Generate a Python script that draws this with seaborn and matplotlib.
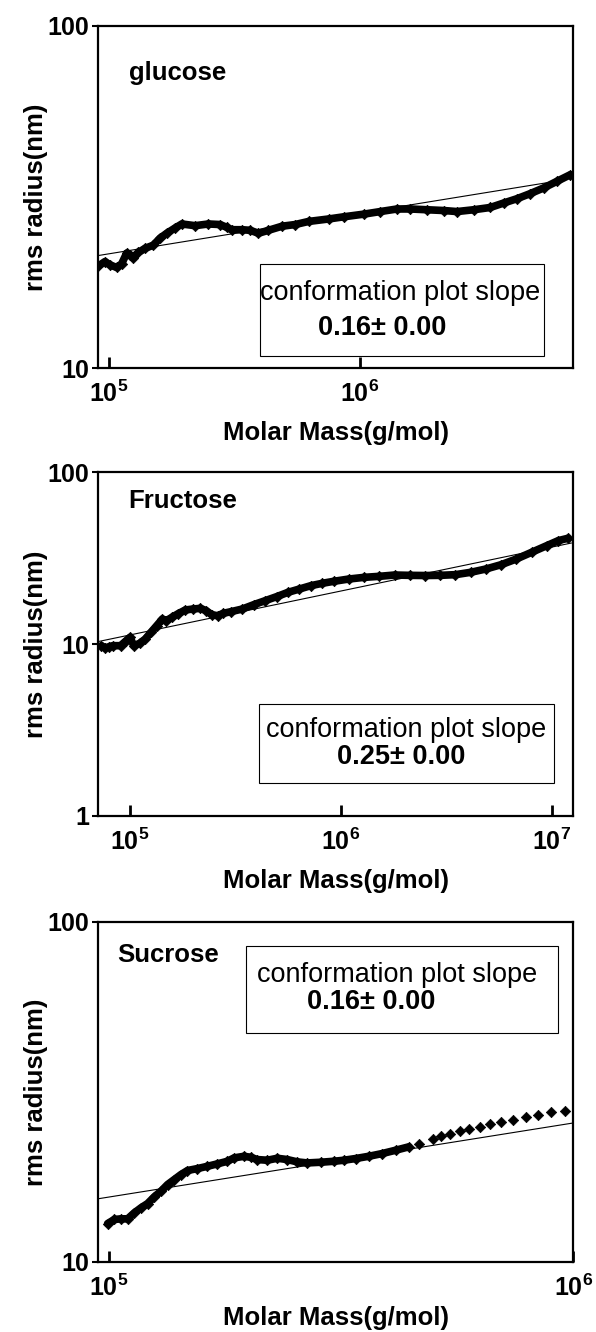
import matplotlib
matplotlib.use("Agg")
import matplotlib.pyplot as plt
from matplotlib.patches import Rectangle
from matplotlib.ticker import NullLocator
import pandas as pd
import seaborn as sns

# glucose: molar mass (g/mol) vs rms radius (nm)
glucose_mm = [90570, 96300, 100800, 107200, 112200, 117500, 121200, 124900, 130800, 139000,
              150100, 159600, 169700, 183200, 194800, 220100, 248700, 277000, 294500, 308300,
              338000, 364800, 393700, 431500, 488200, 551400, 623200, 748800, 859600, 1033000,
              1204000, 1404000, 1586000, 1849000, 2154000, 2435000, 2836000, 3306000, 3736000,
              4225000, 4773000, 5395000, 6101000, 6895000]
glucose_rg = [19.9, 20.5, 20.05, 19.7, 20.2, 21.7, 21.45, 21.0, 21.8, 22.4,
              22.9, 24.0, 24.8, 25.7, 26.4, 26.1, 26.4, 26.3, 25.8, 25.4,
              25.4, 25.3, 24.8, 25.3, 26.0, 26.3, 26.85, 27.3, 27.7, 28.2,
              28.7, 29.2, 29.2, 29.05, 28.9, 28.7, 29.05, 29.5, 30.4,
              31.3, 32.4, 33.65, 35.2, 36.8]
glucose_fit_mm = [90570, 6290000]
glucose_fit_rg = [21.35, 35.36]

# fructose
fructose_mm = [73200, 76300, 79600, 82950, 90140, 95920, 100000, 104200, 110950, 118100,
               125700, 133800, 142400, 148400, 158000, 168100, 182700, 198600, 215800, 229600,
               244400, 260100, 276800, 300800, 340800, 386000, 437400, 495400, 561200, 635700,
               720100, 815800, 924100, 1091000, 1289000, 1522000, 1797000, 2122000, 2506000,
               2959000, 3494000, 4126000, 4872000, 5754000, 6794000, 8023000, 9474000,
               10730000, 11910000]
fructose_rg = [9.78, 9.48, 9.65, 9.78, 9.78, 10.46, 10.94, 9.78, 10.09, 10.69,
               11.70, 12.79, 13.98, 13.67, 14.30, 14.96, 15.78, 15.99, 16.14, 15.64,
               14.82, 14.62, 15.09, 15.43, 15.99, 16.95, 17.88, 18.87, 20.00, 20.91,
               21.87, 22.57, 23.18, 23.91, 24.45, 24.79, 25.23, 25.12, 25.06,
               25.12, 25.35, 26.16, 27.35, 28.98, 31.27, 34.20, 37.41,
               40.00, 41.27]
fructose_fit_mm = [70250, 12410000]
fructose_fit_rg = [10.32, 38.76]

# sucrose
sucrose_mm = [99500, 102850, 106300, 109850, 113560, 117380, 121250, 125340, 129560, 133870,
              138380, 143040, 147770, 155270, 163150, 171420, 180060, 186130, 195570, 202160,
              208870, 219460, 230590, 242290, 254530, 267420, 285760, 305150, 320650, 339710,
              362820, 387500, 414100, 442200, 464700, 498200, 519900, 543600, 569200, 597100,
              628300, 662400, 699300, 739600, 789900, 838000, 895400, 959800]
sucrose_rg = [12.97, 13.33, 13.39, 13.39, 13.95, 14.43, 14.85, 15.54, 16.14, 16.89,
              17.47, 18.07, 18.57, 18.82, 19.11, 19.43, 19.77, 20.23, 20.45, 20.31,
              20.00, 19.91, 20.18, 20.00, 19.69, 19.55, 19.64, 19.77, 19.91, 20.14,
              20.45, 20.83, 21.30, 21.80, 22.24, 23.01, 23.42, 23.80, 24.22, 24.61,
              24.95, 25.46, 25.80, 26.21, 26.69, 27.12, 27.54, 27.73]
sucrose_fit_mm = [94700, 1000000]
sucrose_fit_rg = [15.33, 25.63]

names = ["glucose", "Fructose", "Sucrose"]
slopes = ["0.16\u00b1 0.00", "0.25\u00b1 0.00", "0.16\u00b1 0.00"]

#%% layout per panel
panels = [
    dict(name=names[0], mm=glucose_mm, rg=glucose_rg, fmm=glucose_fit_mm, frg=glucose_fit_rg,
         slope=slopes[0], rect=[0.1639, 0.7235, 0.7983, 0.2570],
         xlim=(90050, 7087000), ylim=(10, 100), xt=[1e5, 1e6], yt=[10, 100],
         band_end=None, name_xy=(0.065, 0.862),
         box=(0.3416, 0.036, 0.5961, 0.2678), t1=(0.636, 0.219), t2=(0.599, 0.117),
         xlab_y=-0.155),
    dict(name=names[1], mm=fructose_mm, rg=fructose_rg, fmm=fructose_fit_mm, frg=fructose_fit_rg,
         slope=slopes[1], rect=[0.1639, 0.3876, 0.7983, 0.2578],
         xlim=(70250, 12680000), ylim=(1, 100), xt=[1e5, 1e6, 1e7], yt=[1, 10, 100],
         band_end=None, name_xy=(0.064, 0.9155),
         box=(0.34, 0.095, 0.62, 0.23), t1=(0.649, 0.2495), t2=(0.638, 0.170),
         xlab_y=-0.155),
    dict(name=names[2], mm=sucrose_mm, rg=sucrose_rg, fmm=sucrose_fit_mm, frg=sucrose_fit_rg,
         slope=slopes[2], rect=[0.1639, 0.0526, 0.7983, 0.2553],
         xlim=(94700, 1000000), ylim=(10, 100), xt=[1e5, 1e6], yt=[10, 100],
         band_end=450000, name_xy=(0.04, 0.902),
         box=(0.3115, 0.6745, 0.655, 0.2549), t1=(0.629, 0.845), t2=(0.575, 0.765),
         xlab_y=-0.13),
]

sns.set_theme(style="white")
plt.rcParams['font.family'] = ['Liberation Sans', 'DejaVu Sans']
plt.rcParams['text.color'] = 'black'
plt.rcParams['axes.labelcolor'] = 'black'
plt.rcParams['mathtext.fontset'] = 'custom'
plt.rcParams['mathtext.rm'] = 'Liberation Sans'
plt.rcParams['mathtext.bf'] = 'Liberation Sans:bold'

fig = plt.figure(figsize=(5.96, 13.32), dpi=100)

for p in panels:
    ax = fig.add_axes(p["rect"])
    ax.set_xscale("log")
    ax.set_yscale("log")
    df = pd.DataFrame({"Molar Mass": p["mm"], "rms radius": p["rg"]})
    band = df if p["band_end"] is None else df[df["Molar Mass"] <= p["band_end"]]
    sns.lineplot(data=band, x="Molar Mass", y="rms radius", sort=False, estimator=None,
                 color="black", lw=5.5, ax=ax)
    sns.scatterplot(data=df, x="Molar Mass", y="rms radius", marker="D", s=28,
                    color="black", edgecolor="black", linewidth=0.5, ax=ax, zorder=3)
    fit = pd.DataFrame({"x": p["fmm"], "y": p["frg"]})
    sns.lineplot(data=fit, x="x", y="y", color="black", lw=0.8, ax=ax, zorder=4)

    ax.set_xlim(*p["xlim"])
    ax.set_ylim(*p["ylim"])
    ax.set_xticks(p["xt"])
    ax.set_xticklabels([r"$\mathbf{10^{%d}}$" % (len(str(int(v))) - 1) for v in p["xt"]])
    ax.set_yticks(p["yt"])
    ax.set_yticklabels([str(v) for v in p["yt"]], fontweight="bold")
    ax.xaxis.set_minor_locator(NullLocator())
    ax.yaxis.set_minor_locator(NullLocator())
    ax.tick_params(axis="x", bottom=True, direction="in", length=8, width=2, pad=9,
                   labelsize=18, colors="black")
    ax.tick_params(axis="y", left=True, direction="out", length=4, width=1.5, pad=2,
                   labelsize=18, colors="black")
    for s in ax.spines.values():
        s.set_linewidth(1.6)
        s.set_color("black")

    ax.set_xlabel("Molar Mass(g/mol)", fontsize=18.5, fontweight="bold", color="black")
    ax.set_ylabel("rms radius(nm)", fontsize=18.5, fontweight="bold", color="black")
    ax.xaxis.set_label_coords(0.5, p["xlab_y"])
    ax.yaxis.set_label_coords(-0.105, 0.5)

    ax.text(p["name_xy"][0], p["name_xy"][1], p["name"], transform=ax.transAxes,
            fontsize=18.5, fontweight="bold", ha="left", va="center", color="black")
    bx, by, bw, bh = p["box"]
    ax.add_patch(Rectangle((bx, by), bw, bh, transform=ax.transAxes, fill=True,
                           facecolor="white", edgecolor="black", lw=0.8, zorder=5))
    ax.text(p["t1"][0], p["t1"][1], "conformation plot slope", transform=ax.transAxes,
            fontsize=19.5, ha="center", va="center", zorder=6, color="black")
    ax.text(p["t2"][0], p["t2"][1], p["slope"], transform=ax.transAxes,
            fontsize=19.5, fontweight="bold", ha="center", va="center", zorder=6,
            color="black")

fig.savefig("out.png", dpi=100)
